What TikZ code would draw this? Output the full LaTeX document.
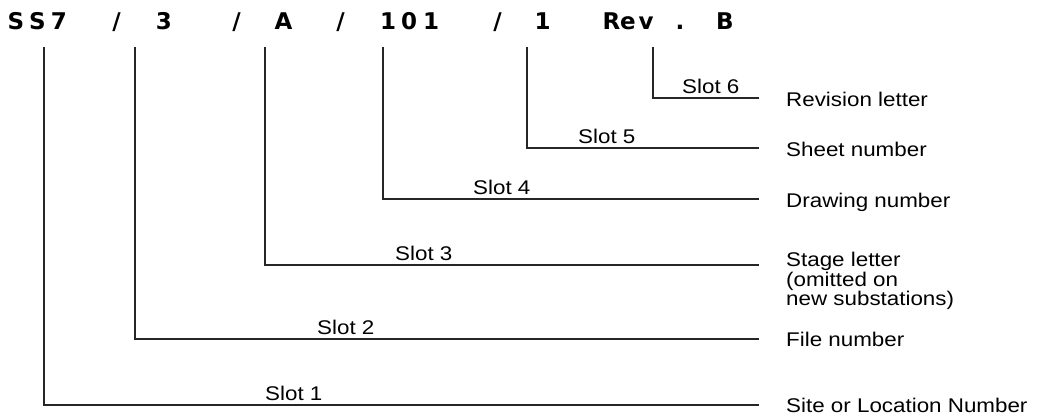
\documentclass[tikz,border=0pt]{standalone}
\usepackage{fontspec}
\newfontfamily\lblfont{Liberation Sans}[FakeStretch=1.13]
\newfontfamily\topfont{DejaVu Sans}
\begin{document}
\begin{tikzpicture}[x=1pt,y=-1pt,
  lead/.style={draw=black!85,line width=1.4pt},
  lbl/.style={inner sep=0pt,anchor=base west,font=\lblfont\fontsize{19.8}{13.5}\selectfont,align=left},
  slotlbl/.style={inner sep=0pt,anchor=base west,font=\lblfont\fontsize{19.8}{13.5}\selectfont},
  ch/.style={inner sep=0pt,anchor=base,font=\topfont\bfseries\fontsize{23}{23}\selectfont}]
\useasboundingbox (0,0) rectangle (1037,416);
% top reference string
\node[ch] (c1) at (16,29) {S};
\node[ch] (c2) at (37.5,29) {S};
\node[ch] (c3) at (59,29) {7};
\node[ch] (s1) at (116.5,29) {/};
\node[ch] (c4) at (164,29) {3};
\node[ch] (s2) at (236.5,29) {/};
\node[ch] (c5) at (283.5,29) {A};
\node[ch] (s3) at (340.5,29) {/};
\node[ch] (c6) at (388,29) {1};
\node[ch] (c7) at (409,29) {0};
\node[ch] (c8) at (431,29) {1};
\node[ch] (s4) at (497.5,29) {/};
\node[ch] (c9) at (542.5,29) {1};
\node[ch] (r1) at (611.5,29) {R};
\node[ch] (r2) at (628,29) {e};
\node[ch] (r3) at (646,29) {v};
\node[ch] (r4) at (680,29) {.};
\node[ch] (r5) at (725,29) {B};
% leader end points
\coordinate (t1) at (44,47);  \coordinate (e1) at (759,405);
\coordinate (t2) at (135,47); \coordinate (e2) at (759,339);
\coordinate (t3) at (265,47); \coordinate (e3) at (759,265);
\coordinate (t4) at (383,47); \coordinate (e4) at (759,199);
\coordinate (t5) at (527,47); \coordinate (e5) at (759,148);
\coordinate (t6) at (653,47); \coordinate (e6) at (759,98);
\draw[lead] (t1) |- (e1);
\draw[lead] (t2) |- (e2);
\draw[lead] (t3) |- (e3);
\draw[lead] (t4) |- (e4);
\draw[lead] (t5) |- (e5);
\draw[lead] (t6) |- (e6);
% slot labels
\node[slotlbl] (sl1) at (265,400) {Slot 1};
\node[slotlbl] (sl2) at (317,334) {Slot 2};
\node[slotlbl] (sl3) at (395,260) {Slot 3};
\node[slotlbl] (sl4) at (473,194) {Slot 4};
\node[slotlbl] (sl5) at (578,143) {Slot 5};
\node[slotlbl] (sl6) at (682,93) {Slot 6};
% descriptions
\node[lbl] (d6) at (786,106) {Revision letter};
\node[lbl] (d5) at (786,156) {Sheet number};
\node[lbl] (d4) at (786,207) {Drawing number};
\node[lbl,anchor=north west] (d3) at (786,252) {Stage letter\\(omitted on\\new substations)};
\node[lbl] (d2) at (786,346) {File number};
\node[lbl] (d1) at (786,412) {Site or Location Number};
\end{tikzpicture}
\end{document}
